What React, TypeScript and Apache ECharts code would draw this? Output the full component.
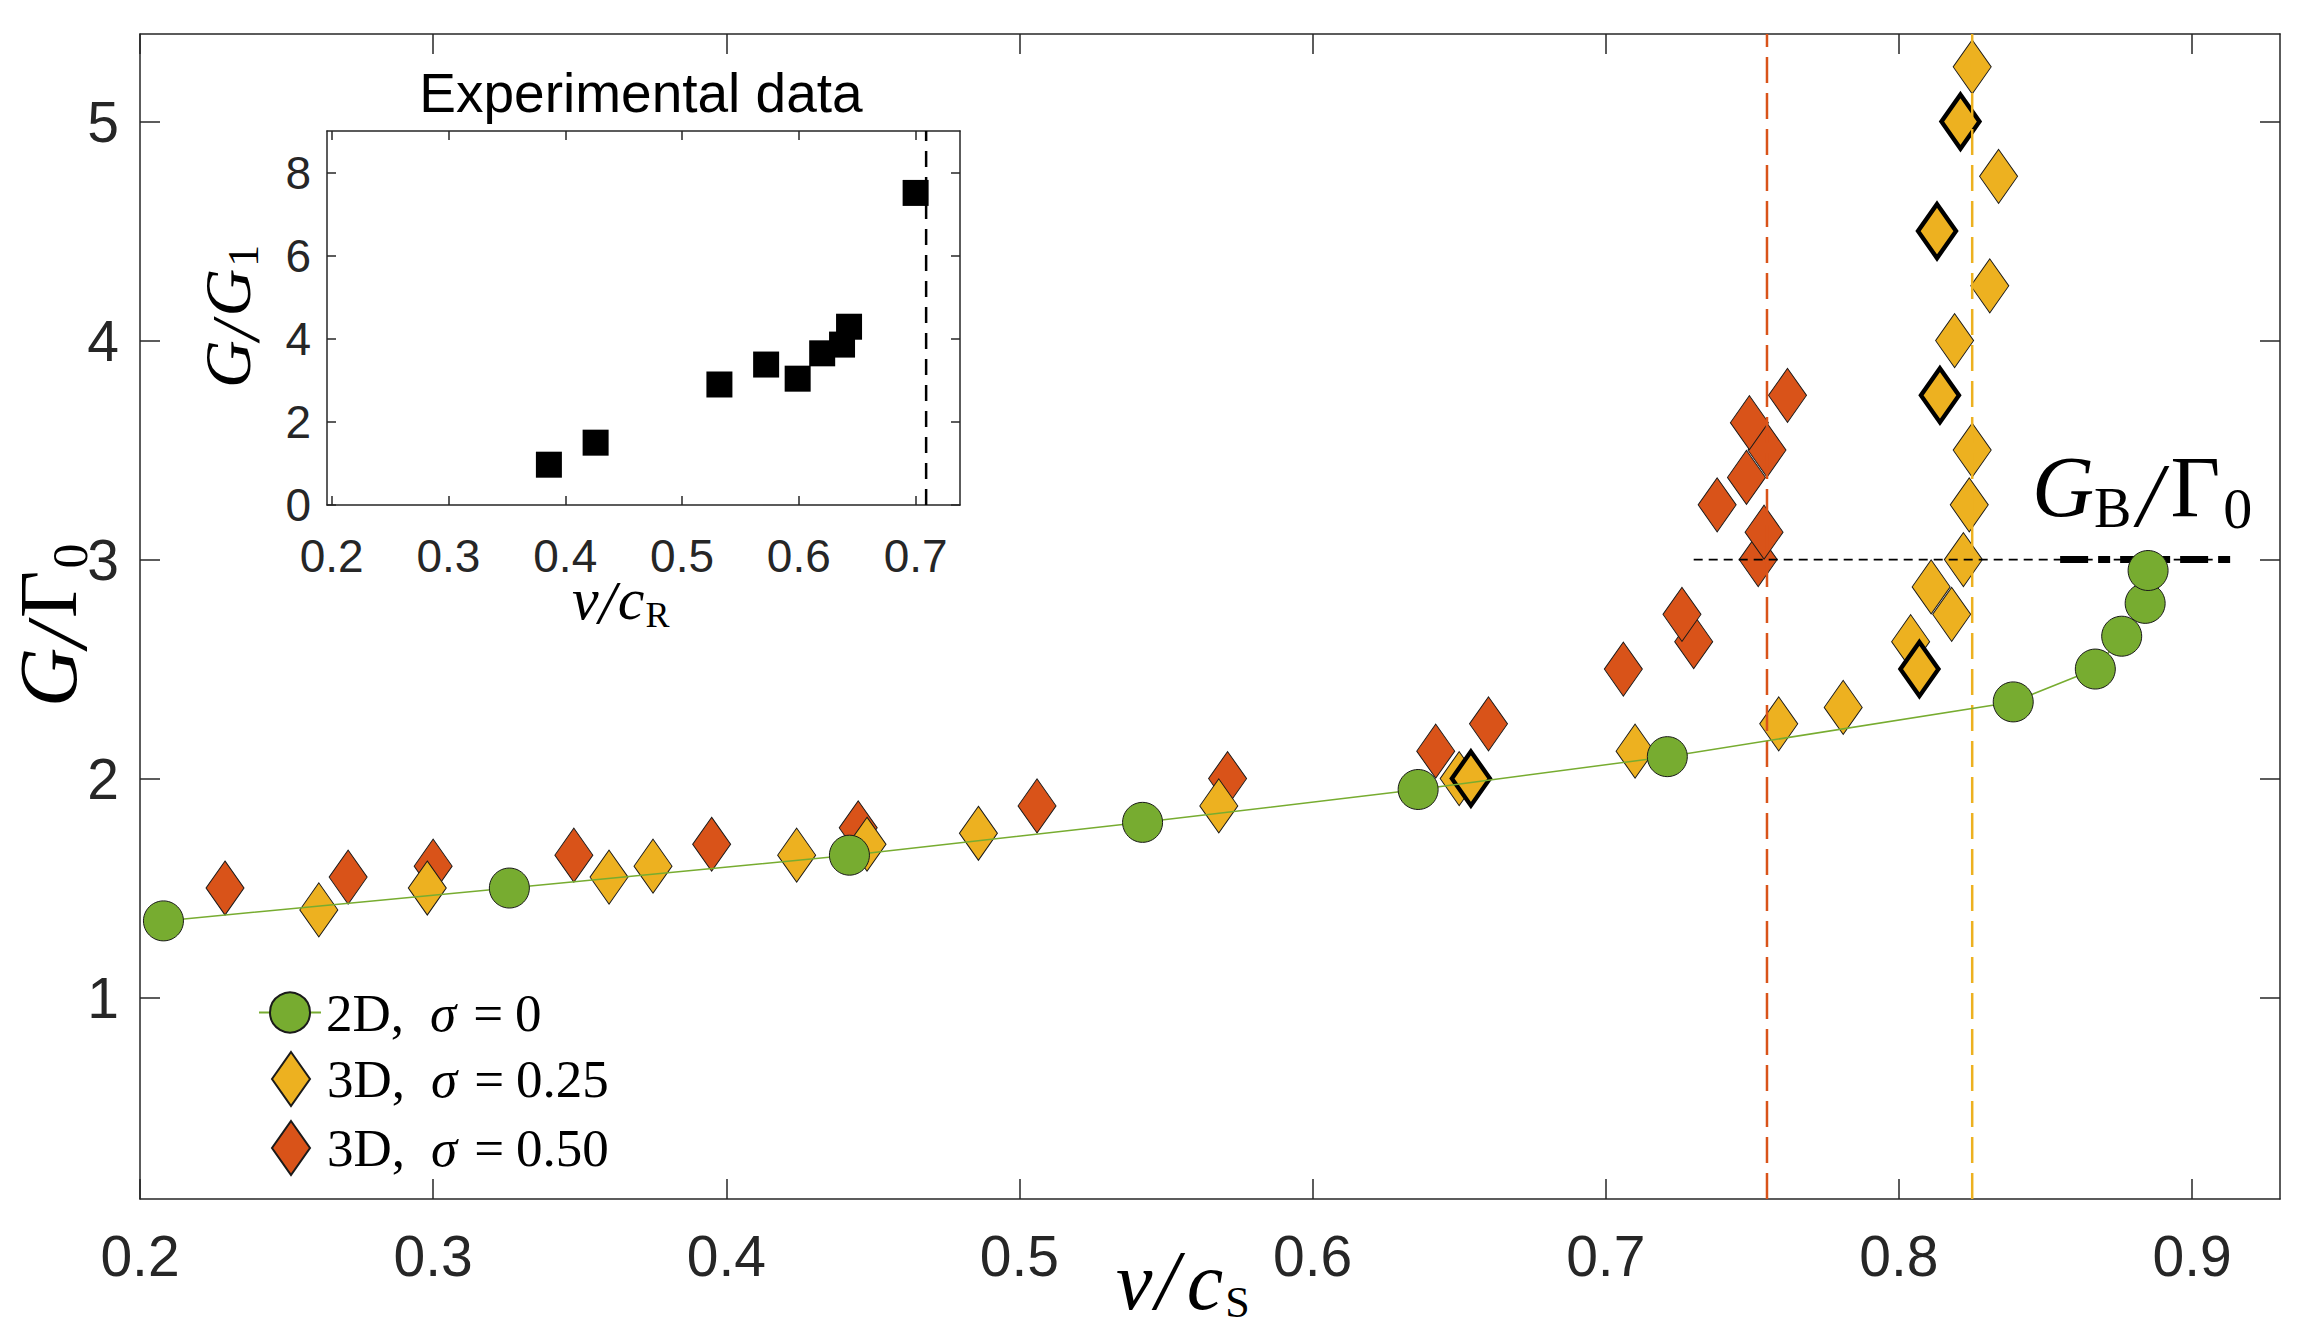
import React, { useEffect, useRef } from 'react';
import * as echarts from 'echarts';

// ---------- data ----------
const X_TICKS = [0.2, 0.3, 0.4, 0.5, 0.6, 0.7, 0.8, 0.9];
const Y_TICKS = [1, 2, 3, 4, 5];
const INSET_X_TICKS = [0.2, 0.3, 0.4, 0.5, 0.6, 0.7];
const INSET_Y_TICKS = [0, 2, 4, 6, 8];

const X_RANGE = [0.2, 0.93];
const Y_RANGE = [0.08, 5.4];
const INSET_X_RANGE = [0.196, 0.738];
const INSET_Y_RANGE = [0, 9];

const SERIES_NAMES = ['2D, σ = 0', '3D, σ = 0.25', '3D, σ = 0.50'];

// 2D, sigma = 0
const V_2D = [0.208, 0.326, 0.442, 0.542, 0.636, 0.721, 0.839, 0.867, 0.876, 0.884, 0.885];
const G_2D = [1.35, 1.5, 1.65, 1.8, 1.95, 2.1, 2.35, 2.5, 2.65, 2.8, 2.95];

// 3D, sigma = 0.25
const V_3D_025 = [0.261, 0.298, 0.36, 0.375, 0.424, 0.448, 0.486, 0.568, 0.65, 0.71, 0.759, 0.781, 0.804, 0.818, 0.811, 0.822, 0.824, 0.825, 0.819, 0.831, 0.834, 0.825];
const G_3D_025 = [1.4, 1.5, 1.55, 1.6, 1.65, 1.7, 1.75, 1.875, 2.0, 2.125, 2.25, 2.325, 2.625, 2.75, 2.875, 3.0, 3.25, 3.5, 4.0, 4.25, 4.75, 5.25];

// 3D, sigma = 0.25, highlighted points (thick outline)
const V_3D_025_HL = [0.654, 0.807, 0.814, 0.813, 0.821];
const G_3D_025_HL = [2.0, 2.5, 3.75, 4.5, 5.0];

// 3D, sigma = 0.50
const V_3D_050 = [0.229, 0.271, 0.3, 0.348, 0.395, 0.445, 0.506, 0.571, 0.642, 0.66, 0.706, 0.73, 0.726, 0.752, 0.754, 0.738, 0.748, 0.755, 0.749, 0.762];
const G_3D_050 = [1.5, 1.55, 1.6, 1.65, 1.7, 1.775, 1.875, 2.0, 2.125, 2.25, 2.5, 2.625, 2.75, 3.0, 3.125, 3.25, 3.375, 3.5, 3.625, 3.75];

// reference levels
const LIMIT_050 = 0.755;
const LIMIT_025 = 0.825;
const GB_LEVEL = 3;
const GB_GUIDE_X = [0.73, 0.914];
const GB_THICK_X = [0.855, 0.914];

// inset: experimental data
const EXP_V = [0.386, 0.426, 0.532, 0.572, 0.599, 0.62, 0.637, 0.643, 0.7];
const EXP_G = [0.97, 1.5, 2.9, 3.38, 3.04, 3.65, 3.86, 4.29, 7.51];
const EXP_LIMIT = 0.709;

// ---------- helpers ----------
const zip = (a: number[], b: number[]) => a.map((v, i) => [v, b[i]]);

const GREEN = '#77AC30';
const YELLOW = '#EDB120';
const RED = '#D95319';
const AX = '#262626';
const SERIF = '"Liberation Serif", "Times New Roman", serif';
const SANS = '"Liberation Sans", Arial, Helvetica, sans-serif';

type Part = { t: string; it?: boolean; s: number; dy?: number; gap?: number };
function mathText(parts: Part[]) {
  const ctx = document.createElement('canvas').getContext('2d') as CanvasRenderingContext2D;
  let x = 0;
  const children: any[] = [];
  for (const p of parts) {
    x += p.gap || 0;
    const font = `${p.it ? 'italic ' : ''}${p.s}px ${SERIF}`;
    ctx.font = font;
    const w = ctx.measureText(p.t).width;
    children.push({
      type: 'text',
      x,
      y: (p.dy || 0) - 0.34 * p.s,
      silent: true,
      style: { text: p.t, font, fill: '#000', align: 'left', verticalAlign: 'middle' },
    });
    x += w;
  }
  return children;
}

function guide(data: number[][], color: string, width: number, type: any, axis: number) {
  return {
    type: 'line',
    xAxisIndex: axis,
    yAxisIndex: axis,
    data,
    symbol: 'none',
    silent: true,
    lineStyle: { color, width, type, cap: 'butt' },
  };
}

function axisDef(dim: 'x' | 'y', grid: number, pos: string, range: number[], ticks: number[], showLabel: boolean, tickLen: number, fontSize: number, margin: number) {
  return {
    type: 'value',
    gridIndex: grid,
    position: pos,
    min: range[0],
    max: range[1],
    axisLine: { show: true, onZero: false, lineStyle: { color: AX, width: 1.5 } },
    axisTick: { show: true, inside: true, length: tickLen, customValues: ticks, lineStyle: { color: AX, width: 1.5 } },
    axisLabel: {
      show: showLabel,
      customValues: ticks,
      margin,
      fontSize,
      fontFamily: SANS,
      color: AX,
      formatter: (v: number) => (dim === 'x' ? v.toFixed(1) : String(Math.round(v))),
    },
    splitLine: { show: false },
  };
}

const LEG_FS = 53;
const legendRich = {
  r: { fontFamily: SERIF, fontSize: LEG_FS, color: '#000', lineHeight: 54 },
  i: { fontFamily: SERIF, fontSize: LEG_FS, fontStyle: 'italic', color: '#000', lineHeight: 54, padding: [0, 0, 0, 26] },
  e: { fontFamily: SERIF, fontSize: LEG_FS, color: '#000', lineHeight: 54, padding: [0, 12, 0, 17] },
};
const legendFormatter = (name: string) => {
  const [a, b] = name.split('σ');
  const rhs = b.replace('=', '').trim();
  return `{r|${a.trim()}}{i|σ}{e|=}{r|${rhs}}`;
};

export default function App() {
  const ref = useRef<HTMLDivElement>(null);

  useEffect(() => {
    document.body.style.margin = '0';
    document.body.style.overflow = 'hidden';
    if (!ref.current) return;
    const chart = echarts.init(ref.current, null, { renderer: 'svg' });

    const option: any = {
      animation: false,
      backgroundColor: '#ffffff',
      grid: [
        { left: 140, top: 34, width: 2140, height: 1165, outerBoundsMode: 'none' },
        { left: 327, top: 131, width: 633, height: 374, outerBoundsMode: 'none' },
      ],
      xAxis: [
        axisDef('x', 0, 'bottom', X_RANGE, X_TICKS, true, 20, 57, 28),
        axisDef('x', 0, 'top', X_RANGE, X_TICKS, false, 20, 57, 28),
        axisDef('x', 1, 'bottom', INSET_X_RANGE, INSET_X_TICKS, true, 9, 46, 28),
        axisDef('x', 1, 'top', INSET_X_RANGE, INSET_X_TICKS, false, 9, 46, 28),
      ],
      yAxis: [
        axisDef('y', 0, 'left', Y_RANGE, Y_TICKS, true, 20, 57, 21),
        axisDef('y', 0, 'right', Y_RANGE, Y_TICKS, false, 20, 57, 21),
        axisDef('y', 1, 'left', INSET_Y_RANGE, INSET_Y_TICKS, true, 9, 46, 16),
        axisDef('y', 1, 'right', INSET_Y_RANGE, INSET_Y_TICKS, false, 9, 46, 16),
      ],
      legend: [
        {
          data: [SERIES_NAMES[0]],
          left: 258,
          top: 986,
          orient: 'vertical',
          itemWidth: 62,
          itemHeight: 50,
          padding: 0,
          selectedMode: false,
          formatter: legendFormatter,
          textStyle: { fontFamily: SERIF, fontSize: LEG_FS, color: '#000', rich: legendRich },
        },
        {
          data: [SERIES_NAMES[1], SERIES_NAMES[2]],
          left: 271,
          top: 1051,
          orient: 'vertical',
          itemWidth: 38,
          itemHeight: 54,
          itemGap: 13,
          padding: 0,
          selectedMode: false,
          formatter: legendFormatter,
          textStyle: { fontFamily: SERIF, fontSize: LEG_FS, color: '#000', rich: legendRich, padding: [0, 0, 0, 12] },
        },
      ],
      series: [
        guide([[LIMIT_050, Y_RANGE[0]], [LIMIT_050, Y_RANGE[1]]], RED, 2.5, [26, 10], 0),
        guide([[LIMIT_025, Y_RANGE[0]], [LIMIT_025, Y_RANGE[1]]], YELLOW, 2.5, [26, 10], 0),
        guide([[GB_GUIDE_X[0], GB_LEVEL], [GB_GUIDE_X[1], GB_LEVEL]], '#000', 1.8, [9, 6], 0),
        guide([[GB_THICK_X[0], GB_LEVEL], [GB_THICK_X[1], GB_LEVEL]], '#000', 7, [28, 10, 12, 10], 0),
        {
          name: SERIES_NAMES[0],
          type: 'line',
          xAxisIndex: 0,
          yAxisIndex: 0,
          data: zip(V_2D, G_2D),
          symbol: 'circle',
          symbolSize: 40,
          showSymbol: true,
          showAllSymbol: true,
          lineStyle: { color: GREEN, width: 1.5 },
          itemStyle: { color: GREEN, borderColor: '#1a1a1a', borderWidth: 1 },
        },
        {
          name: SERIES_NAMES[2],
          type: 'scatter',
          xAxisIndex: 0,
          yAxisIndex: 0,
          data: zip(V_3D_050, G_3D_050),
          symbol: 'diamond',
          symbolSize: [38, 54],
          itemStyle: { color: RED, borderColor: '#1a1a1a', borderWidth: 1, opacity: 1 },
        },
        {
          name: SERIES_NAMES[1],
          type: 'scatter',
          xAxisIndex: 0,
          yAxisIndex: 0,
          data: zip(V_3D_025, G_3D_025),
          symbol: 'diamond',
          symbolSize: [38, 54],
          itemStyle: { color: YELLOW, borderColor: '#1a1a1a', borderWidth: 1, opacity: 1 },
        },
        {
          name: 'highlighted',
          type: 'scatter',
          xAxisIndex: 0,
          yAxisIndex: 0,
          data: zip(V_3D_025_HL, G_3D_025_HL),
          symbol: 'diamond',
          symbolSize: [38, 54],
          itemStyle: { color: YELLOW, borderColor: '#000', borderWidth: 4.5, opacity: 1 },
        },
        guide([[EXP_LIMIT, INSET_Y_RANGE[0]], [EXP_LIMIT, INSET_Y_RANGE[1]]], '#000', 2.5, [16, 10], 2),
        {
          name: 'experimental',
          type: 'scatter',
          xAxisIndex: 2,
          yAxisIndex: 2,
          data: zip(EXP_V, EXP_G),
          symbol: 'rect',
          symbolSize: 26,
          itemStyle: { color: '#000', opacity: 1 },
        },
      ],
      graphic: {
        elements: [
          {
            type: 'text',
            x: 641,
            y: 93,
            silent: true,
            style: { text: 'Experimental data', font: `55px ${SANS}`, fill: '#000', align: 'center', verticalAlign: 'middle' },
          },
          // main y label G/Γ0 (rotated)
          {
            type: 'group',
            x: 76,
            y: 707,
            rotation: Math.PI / 2,
            children: mathText([
              { t: 'G', it: true, s: 82 },
              { t: '/', it: true, s: 86, gap: 0, dy: 10 },
              { t: 'Γ', s: 82, gap: 6 },
              { t: '0', s: 50, gap: 2, dy: 11 },
            ]),
          },
          // main x label v/cS
          {
            type: 'group',
            x: 1116,
            y: 1309,
            children: mathText([
              { t: 'v', it: true, s: 82 },
              { t: '/', it: true, s: 84, gap: 3 },
              { t: 'c', it: true, s: 82, gap: 8 },
              { t: 'S', s: 44, gap: 2, dy: 8 },
            ]),
          },
          // G_B / Γ_0 annotation
          {
            type: 'group',
            x: 2032,
            y: 516,
            children: mathText([
              { t: 'G', it: true, s: 86 },
              { t: 'B', s: 56, gap: 0, dy: 11 },
              { t: '/', it: true, s: 90, gap: 6, dy: 10 },
              { t: 'Γ', s: 86, gap: 8 },
              { t: '0', s: 58, gap: 3, dy: 12 },
            ]),
          },
          // inset y label G/G1 (rotated)
          {
            type: 'group',
            x: 250,
            y: 388,
            rotation: Math.PI / 2,
            children: mathText([
              { t: 'G', it: true, s: 66 },
              { t: '/', it: true, s: 68, gap: 0, dy: 8 },
              { t: 'G', it: true, s: 66, gap: 5 },
              { t: '1', s: 44, gap: 2, dy: 8 },
            ]),
          },
          // inset x label v/cR
          {
            type: 'group',
            x: 572,
            y: 619,
            children: mathText([
              { t: 'v', it: true, s: 60 },
              { t: '/', it: true, s: 62, gap: 0, dy: 4 },
              { t: 'c', it: true, s: 60, gap: 2 },
              { t: 'R', s: 36, gap: 1, dy: 8 },
            ]),
          },
        ],
      },
    };

    chart.setOption(option);
    return () => chart.dispose();
  }, []);

  return <div ref={ref} style={{ width: 2303, height: 1330 }} />;
}
